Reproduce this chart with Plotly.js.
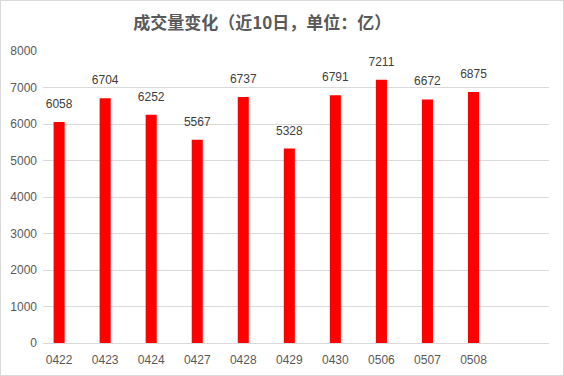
<!DOCTYPE html>
<html>
<head>
<meta charset="utf-8">
<script src="https://cdn.plot.ly/plotly-3.0.1.min.js"></script>
<style>
html,body{margin:0;padding:0;background:#fff;}
#chart{width:564px;height:376px;box-sizing:border-box;border:1px solid #d9d9d9;}
</style>
</head>
<body>
<div id="chart"></div>
<script>
const categories = ["0422","0423","0424","0427","0428","0429","0430","0506","0507","0508"];
const volumes = [6058,6704,6252,5567,6737,5328,6791,7211,6672,6875];
const yTicks = [0,1000,2000,3000,4000,5000,6000,7000,8000];

const txtColor = "#595959";
const tickFont = {family:"Liberation Sans, Arial, sans-serif", size:12, color:txtColor};

const bars = {
  type:"bar", x:categories, y:volumes,
  marker:{color:"#ff0000"}, width:0.24, hoverinfo:"none"
};
const labels = {
  type:"scatter", mode:"markers+text", x:categories, y:volumes,
  marker:{size:16, opacity:0, color:"#fff"},
  text:volumes.map(String), textposition:"top center",
  textfont:{family:"Liberation Sans, Arial, sans-serif", size:12, color:"#404040"},
  hoverinfo:"none", cliponaxis:false
};

const layout = {
  width:562, height:374,
  margin:{l:42, r:14, t:50, b:32},
  paper_bgcolor:"#fff", plot_bgcolor:"#fff",
  title:{text:"<b>成交量变化（近10日，单位：亿）</b>", x:0.465, xanchor:"center", y:0.94, yanchor:"middle",
    font:{family:"Noto Sans CJK SC, sans-serif", size:17, color:txtColor}},
  showlegend:false,
  xaxis:{type:"category", range:[-0.35,10.64], showgrid:false, showline:false, zeroline:false,
    ticks:"", ticklabelstandoff:8, tickfont:tickFont},
  yaxis:{range:[0,8000], tickvals:yTicks, ticktext:yTicks.map(String), showgrid:true, gridcolor:"#d9d9d9",
    gridwidth:1, zeroline:true, zerolinecolor:"#d9d9d9", zerolinewidth:1, showline:false, ticks:"",
    ticklabelstandoff:5, tickfont:tickFont}
};

Plotly.newPlot("chart",[bars,labels],layout,{displayModeBar:false,staticPlot:true});
</script>
</body>
</html>
